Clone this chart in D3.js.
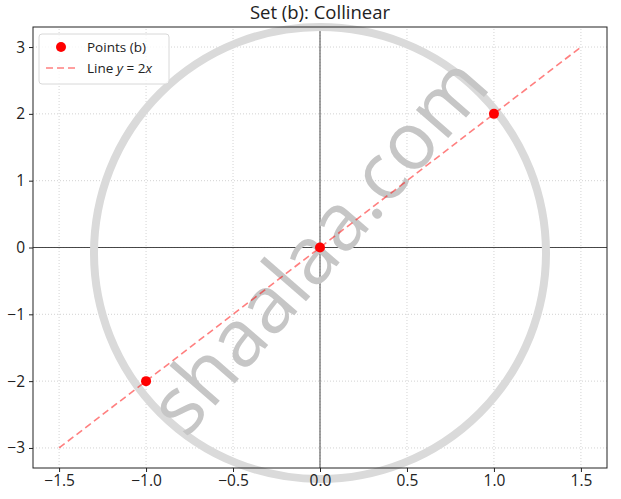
<!DOCTYPE html>
<html>
<head>
<meta charset="utf-8">
<script src="https://cdn.jsdelivr.net/npm/d3@7"></script>
<style>
  body { margin: 0; background: #fff; }
  svg { font-family: "Open Sans", "DejaVu Sans", sans-serif; }
</style>
</head>
<body>
<script>
//-----------------Data----------------
const pointsX = [-1, 0, 1];
const pointsY = [-2, 0, 2];
const lineX = [-1.5, 1.5];
const lineY = [-3, 3];
const xTicks = [-1.5, -1.0, -0.5, 0.0, 0.5, 1.0, 1.5];
const yTicks = [-3, -2, -1, 0, 1, 2, 3];

const width = 621;
const height = 499;
const margin = { top: 27, right: 14, bottom: 31, left: 33 };

const svg = d3.select("body").append("svg").attr("width", width).attr("height", height);

//----------------Scales-----------------
const x = d3.scaleLinear().domain([-1.65, 1.65]).range([margin.left, width - margin.right]);
const y = d3.scaleLinear().domain([-3.3, 3.3]).range([height - margin.bottom, margin.top]);

const minus = (s) => s.replace("-", "\u2212");

//----------------Grid-----------------
const grid = svg.append("g");
grid.selectAll(".gx").data(xTicks).enter().append("line")
  .attr("x1", (d) => x(d)).attr("x2", (d) => x(d))
  .attr("y1", y.range()[0]).attr("y2", y.range()[1])
  .attr("stroke", "#c8c8c8").attr("stroke-width", 0.8).attr("stroke-dasharray", "1,2");
grid.selectAll(".gy").data(yTicks).enter().append("line")
  .attr("y1", (d) => y(d)).attr("y2", (d) => y(d))
  .attr("x1", x.range()[0]).attr("x2", x.range()[1])
  .attr("stroke", "#c8c8c8").attr("stroke-width", 0.8).attr("stroke-dasharray", "1,2");

//----------------Zero lines-----------------
svg.append("line").attr("x1", x(0)).attr("x2", x(0)).attr("y1", y.range()[0]).attr("y2", y.range()[1])
  .attr("stroke", "#333").attr("stroke-width", 0.9);
svg.append("line").attr("y1", y(0)).attr("y2", y(0)).attr("x1", x.range()[0]).attr("x2", x.range()[1])
  .attr("stroke", "#333").attr("stroke-width", 0.9);

//----------------Watermark-----------------
const wm = svg.append("g").attr("pointer-events", "none");
wm.append("circle").attr("cx", 320).attr("cy", 253).attr("r", 226)
  .attr("fill", "none").attr("stroke", "#dadada").attr("stroke-width", 8);
wm.append("text").text("shaalaa.com")
  .attr("transform", "translate(318,245) rotate(-49)")
  .attr("text-anchor", "middle").attr("dy", "0.35em")
  .style("font-size", "80px").style("fill", "#c6c6c6")
  .style("font-family", "'Open Sans', sans-serif");

//----------------Line y = 2x-----------------
svg.append("line")
  .attr("x1", x(lineX[0])).attr("y1", y(lineY[0]))
  .attr("x2", x(lineX[1])).attr("y2", y(lineY[1]))
  .attr("stroke", "#ff0000").attr("stroke-opacity", 0.5)
  .attr("stroke-width", 1.6).attr("stroke-dasharray", "7,4");

//----------------Points-----------------
svg.selectAll(".pt").data(pointsX).enter().append("circle")
  .attr("cx", (d) => x(d)).attr("cy", (d, i) => y(pointsY[i]))
  .attr("r", 5).attr("fill", "#ff0000");

//----------------Axes-----------------
svg.append("rect")
  .attr("x", x.range()[0]).attr("y", y.range()[1])
  .attr("width", x.range()[1] - x.range()[0]).attr("height", y.range()[0] - y.range()[1])
  .attr("fill", "none").attr("stroke", "#222").attr("stroke-width", 1);

const xAxis = svg.append("g").attr("transform", `translate(0,${y.range()[0]})`)
  .call(d3.axisBottom(x).tickValues(xTicks).tickSize(4).tickPadding(3).tickFormat((d) => minus(d3.format(".1f")(d))));
const yAxis = svg.append("g").attr("transform", `translate(${x.range()[0]},0)`)
  .call(d3.axisLeft(y).tickValues(yTicks).tickSize(4).tickPadding(4).tickFormat((d) => minus(String(d))));
[xAxis, yAxis].forEach((a) => {
  a.select(".domain").remove();
  a.selectAll("text").style("font-size", "15.5px").style("fill", "#222").style("font-family", "'Open Sans', sans-serif");
  a.selectAll("line").attr("stroke", "#222");
});

//----------------Title-----------------
svg.append("text").text("Set (b): Collinear")
  .attr("x", (x.range()[0] + x.range()[1]) / 2).attr("y", 19)
  .attr("text-anchor", "middle").style("font-size", "18.5px").style("fill", "#222");

//----------------Legend-----------------
const legend = svg.append("g");
legend.append("rect").attr("x", 39).attr("y", 34).attr("width", 130).attr("height", 50).attr("rx", 3)
  .attr("fill", "#fff").attr("fill-opacity", 0.8).attr("stroke", "#d8d8d8");
legend.append("circle").attr("cx", 61).attr("cy", 47).attr("r", 5).attr("fill", "#ff0000");
legend.append("text").text("Points (b)").attr("x", 87).attr("y", 51.5)
  .style("font-size", "13.5px").style("fill", "#222");
legend.append("line").attr("x1", 46).attr("x2", 75).attr("y1", 68).attr("y2", 68)
  .attr("stroke", "#ff0000").attr("stroke-opacity", 0.5).attr("stroke-width", 1.6).attr("stroke-dasharray", "7,4");
const lt = legend.append("text").attr("x", 87).attr("y", 73).style("font-size", "13.5px").style("fill", "#222");
lt.append("tspan").text("Line ");
lt.append("tspan").text("y").style("font-style", "italic");
lt.append("tspan").text(" = 2");
lt.append("tspan").text("x").style("font-style", "italic");
</script>
</body>
</html>
